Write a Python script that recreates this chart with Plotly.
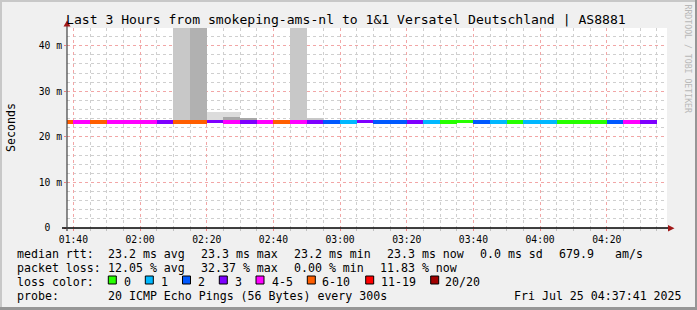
import plotly.graph_objects as go

# ---------------- data ----------------
DAY = "2025-07-25 "
seg_start = ["01:35", "01:40", "01:45", "01:50", "01:55", "02:00", "02:05", "02:10", "02:15",
             "02:20", "02:25", "02:30", "02:35", "02:40", "02:45", "02:50", "02:55", "03:00",
             "03:05", "03:10", "03:15", "03:20", "03:25", "03:30", "03:35", "03:40", "03:45",
             "03:50", "03:55", "04:00", "04:05", "04:10", "04:15", "04:20", "04:25", "04:30"]
median_ms = [23.25, 23.25, 23.25, 23.25, 23.25, 23.25, 23.25, 23.25, 23.25,
             23.3, 23.25, 23.25, 23.25, 23.25, 23.25, 23.25, 23.25, 23.25,
             23.3, 23.25, 23.25, 23.25, 23.25, 23.25, 23.3, 23.25, 23.25,
             23.25, 23.25, 23.25, 23.25, 23.25, 23.25, 23.25, 23.25, 23.25]
loss_class = ["6-10", "4-5", "6-10", "4-5", "4-5", "4-5", "3", "6-10", "6-10",
              "3", "4-5", "3", "4-5", "6-10", "4-5", "3", "2", "1",
              "3", "2", "2", "3", "1", "0", "0", "2", "1",
              "0", "1", "1", "0", "0", "0", "2", "4-5", "3"]

# smoke layers (ping spread above the median); shade 1 = lightest
smoke_time = ["02:10", "02:15", "02:20", "02:25", "02:25", "02:30", "02:45", "02:50", "02:55"]
smoke_lo = [23.3, 23.3, 23.3, 23.3, 23.3, 23.3, 23.3, 23.3, 23.3]
smoke_hi = [60.0, 60.0, 25.4, 25.4, 24.3, 24.2, 60.0, 24.2, 23.8]
smoke_shade = [2, 3, 1, 1, 4, 4, 2, 2, 5]

loss_labels = ["0", "1", "2", "3", "4-5", "6-10", "11-19", "20/20"]
y_tickvals = [0, 10, 20, 30, 40]
y_ticktext = ["0\u00a0\u00a0", "10 m", "20 m", "30 m", "40 m"]

# ---------------- styles ----------------
loss_colors = {"0": "#26ff00", "1": "#00b8ff", "2": "#0059ff", "3": "#7e00ff",
               "4-5": "#ff00ff", "6-10": "#ff5e00", "11-19": "#ff0000", "20/20": "#a10000"}
shade_colors = {1: "#dcdcdc", 2: "#c8c8c8", 3: "#b1b1b1", 4: "#a8a8a8", 5: "#909090"}
MONO = "DejaVu Sans Mono"
W, H = 697, 310
L, R, T, B = 67, 30, 28, 82
PW, PH = W - L - R, H - T - B


def px(x):
    return (x - L) / PW


def py(y):
    return (T + PH - y) / PH


STEP_MS = 300000
fig = go.Figure()

for s in sorted(shade_colors):
    idx = [i for i, v in enumerate(smoke_shade) if v == s]
    if not idx:
        continue
    fig.add_trace(go.Bar(
        x=[DAY + smoke_time[i] for i in idx],
        base=[smoke_lo[i] for i in idx],
        y=[smoke_hi[i] - smoke_lo[i] for i in idx],
        width=STEP_MS, offset=0,
        marker=dict(color=shade_colors[s], line=dict(width=0)),
        hoverinfo="skip", showlegend=False))

BAND = 0.72
fig.add_trace(go.Bar(
    x=[DAY + t for t in seg_start],
    base=[m - BAND / 2 for m in median_ms],
    y=[BAND] * len(median_ms),
    width=STEP_MS, offset=0,
    marker=dict(color=[loss_colors[c] for c in loss_class], line=dict(width=0)),
    showlegend=False))

grid_minor = "#cfcfcf"
grid_major = "#f2a6a6"

fig.update_layout(
    width=W, height=H, autosize=False,
    margin=dict(l=L, r=R, t=T, b=B, pad=0),
    paper_bgcolor="#f0f0f0", plot_bgcolor="#ffffff",
    barmode="overlay", bargap=0,
    font=dict(family=MONO, size=10, color="#000000"),
    xaxis=dict(type="date",
               range=[DAY + "01:38:05", DAY + "04:38:05"],
               tick0=DAY + "00:00", dtick=20 * 60 * 1000, tickformat="%H:%M",
               showgrid=True, gridcolor=grid_major, griddash="dot", gridwidth=1,
               ticks="outside", ticklen=2, tickcolor="#f08080",
               tickfont=dict(family=MONO, size=9.7, color="#000000"),
               minor=dict(dtick=5 * 60 * 1000, showgrid=True, gridcolor=grid_minor,
                          griddash="dot", ticks="outside", ticklen=2, tickcolor="#c0c0c0"),
               showline=False, zeroline=False, fixedrange=True),
    yaxis=dict(range=[0, 43.9], tickvals=y_tickvals, ticktext=y_ticktext,
               showgrid=True, gridcolor=grid_major, griddash="dot", gridwidth=1,
               ticks="outside", ticklen=2, tickcolor="#f08080",
               tickfont=dict(family=MONO, size=9.7, color="#000000"),
               minor=dict(dtick=2, showgrid=True, gridcolor=grid_minor, griddash="dot"),
               showline=False, zeroline=False, fixedrange=True),
)

shapes = []
# axes lines with arrows
shapes.append(dict(type="line", xref="paper", yref="paper", x0=px(62), x1=px(669), y0=0, y1=0,
                   line=dict(color="#000000", width=1.5)))
shapes.append(dict(type="line", xref="paper", yref="paper", x0=0, x1=0, y0=py(231), y1=py(25),
                   line=dict(color="#404040", width=1.2)))
shapes.append(dict(type="path", xref="paper", yref="paper",
                   path=f"M {px(668)} {py(225)} L {px(674.5)} {py(228.3)} L {px(668)} {py(231.5)} Z",
                   fillcolor="#a01818", line=dict(width=0)))
shapes.append(dict(type="path", xref="paper", yref="paper",
                   path=f"M {px(63.5)} {py(26.5)} L {px(67)} {py(20.5)} L {px(70.5)} {py(26.5)} Z",
                   fillcolor="#a01818", line=dict(width=0)))
# frame (3d border)
shapes.append(dict(type="rect", xref="paper", yref="paper", x0=px(0), x1=px(W), y0=py(0), y1=py(2),
                   fillcolor="#c8c8c8", line=dict(width=0), layer="above"))
shapes.append(dict(type="rect", xref="paper", yref="paper", x0=px(0), x1=px(2), y0=py(0), y1=py(H),
                   fillcolor="#c8c8c8", line=dict(width=0), layer="above"))
shapes.append(dict(type="rect", xref="paper", yref="paper", x0=px(W - 2), x1=px(W), y0=py(0), y1=py(H),
                   fillcolor="#969696", line=dict(width=0), layer="above"))
shapes.append(dict(type="rect", xref="paper", yref="paper", x0=px(0), x1=px(W), y0=py(H - 3), y1=py(H),
                   fillcolor="#969696", line=dict(width=0), layer="above"))

# loss color boxes
box_x = [108.3, 145.3, 182.5, 219.3, 256.0, 307.3, 365.7, 430.7]
lab_x = [123.3, 160.0, 197.5, 234.0, 271.0, 321.7, 380.2, 445.0]
for lab, bx in zip(loss_labels, box_x):
    shapes.append(dict(type="rect", xref="paper", yref="paper",
                       x0=px(bx), x1=px(bx + 8), y0=py(276), y1=py(284),
                       fillcolor=loss_colors[lab], line=dict(color="#000000", width=1)))
fig.update_layout(shapes=shapes)

ann = []
PAD = 1.5  # annotation box padding compensation


def txt(s, x, y, size=11.6, color="#000000", anchor="left", angle=0):
    xx = x - PAD if anchor == "left" else x
    ann.append(dict(text=s, x=px(xx), y=py(y), xref="paper", yref="paper",
                    xanchor=anchor, yanchor="middle", showarrow=False, textangle=angle,
                    font=dict(family=MONO, size=size, color=color)))


txt("Last 3 Hours from smokeping-ams-nl to 1&amp;1 Versatel Deutschland | AS8881",
    346.0, 19.3, size=13.1, anchor="center")
txt("Seconds", 10.5, 127.5, size=11.6, anchor="center", angle=-90)
txt("RRDTOOL / TOBI OETIKER", 687.5, 59, size=8.2, color="#b8b8b8", anchor="center", angle=90)

row1 = [("median rtt:", 16), ("23.2 ms avg", 107.3), ("23.3 ms max", 200), ("23.2 ms min", 293.3),
        ("23.3 ms now", 386), ("0.0 ms sd", 479.3), ("679.9", 558.3), ("am/s", 614.3)]
row2 = [("packet loss:", 16), ("12.05 % avg", 107.3), ("32.37 % max", 200.7), ("0.00 % min", 293.3),
        ("11.83 % now", 379.3)]
row4 = [("probe:", 16), ("20 ICMP Echo Pings (56 Bytes) every 300s", 107.3),
        ("Fri Jul 25 04:37:41 2025", 513.3)]
for s, x in row1:
    txt(s, x, 254.3)
for s, x in row2:
    txt(s, x, 268.3)
txt("loss color:", 16, 282.3)
for lab, lx in zip(loss_labels, lab_x):
    txt(lab, lx, 282.3)
for s, x in row4:
    txt(s, x, 296.2)

fig.update_layout(annotations=ann)
fig.write_html("out.html")
